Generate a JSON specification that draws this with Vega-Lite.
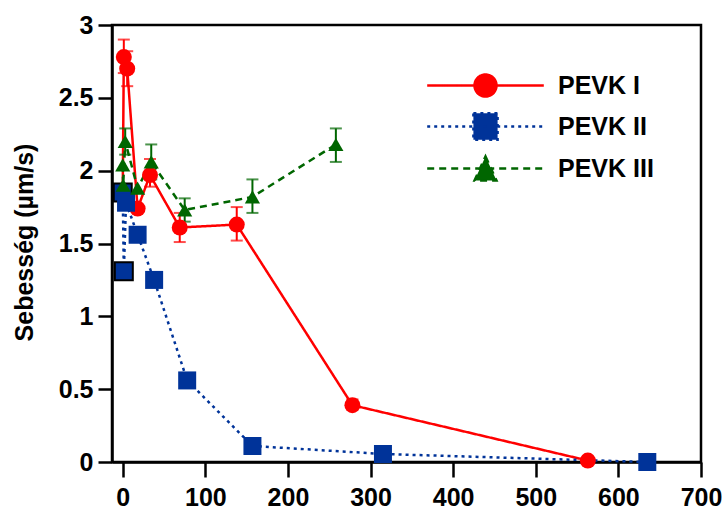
{
  "$schema": "https://vega.github.io/schema/vega-lite/v6.json",
  "width": 589,
  "height": 437,
  "autosize": {"type": "none"},
  "padding": {"left": 112, "top": 25, "right": 26, "bottom": 50},
  "background": "white",
  "config": {
    "view": {"stroke": "black", "strokeWidth": 2.5},
    "font": "Liberation Sans",
    "axis": {
      "grid": false,
      "domainColor": "black",
      "domainWidth": 2.5,
      "tickColor": "black",
      "tickWidth": 2.5,
      "labelFont": "Liberation Sans",
      "labelFontSize": 25,
      "labelFontWeight": "bold",
      "labelColor": "black",
      "labelFlush": false,
      "labelOverlap": false,
      "titleFont": "Liberation Sans",
      "titleFontSize": 25,
      "titleFontWeight": "bold",
      "titleColor": "black"
    }
  },
  "data": {
    "values": [
      {"series": "PEVK I", "x": 0, "y": 1.85},
      {"series": "PEVK I", "x": 1.3, "y": 2.78, "lo": 2.67, "hi": 2.9},
      {"series": "PEVK I", "x": 5.4, "y": 2.7, "lo": 2.58, "hi": 2.82},
      {"series": "PEVK I", "x": 18, "y": 1.74},
      {"series": "PEVK I", "x": 33, "y": 1.97, "lo": 1.89, "hi": 2.08},
      {"series": "PEVK I", "x": 69, "y": 1.61, "lo": 1.51, "hi": 1.71},
      {"series": "PEVK I", "x": 138, "y": 1.63, "lo": 1.52, "hi": 1.75},
      {"series": "PEVK I", "x": 278, "y": 0.39, "lo": 0.36, "hi": 0.43},
      {"series": "PEVK I", "x": 563, "y": 0.01},
      {"series": "PEVK II", "x": 0, "y": 1.85},
      {"series": "PEVK II", "x": 1.3, "y": 1.31},
      {"series": "PEVK II", "x": 4, "y": 1.78},
      {"series": "PEVK II", "x": 18, "y": 1.56},
      {"series": "PEVK II", "x": 38, "y": 1.25},
      {"series": "PEVK II", "x": 78, "y": 0.56},
      {"series": "PEVK II", "x": 157, "y": 0.11},
      {"series": "PEVK II", "x": 315, "y": 0.055},
      {"series": "PEVK II", "x": 635, "y": 0.0},
      {"series": "PEVK III", "x": 0, "y": 2.04},
      {"series": "PEVK III", "x": 0.5, "y": 1.9},
      {"series": "PEVK III", "x": 3, "y": 2.2, "lo": 2.11, "hi": 2.29},
      {"series": "PEVK III", "x": 18, "y": 1.88},
      {"series": "PEVK III", "x": 34.5, "y": 2.06, "lo": 1.94, "hi": 2.18},
      {"series": "PEVK III", "x": 75, "y": 1.73, "lo": 1.65, "hi": 1.81},
      {"series": "PEVK III", "x": 157, "y": 1.82, "lo": 1.71, "hi": 1.94},
      {"series": "PEVK III", "x": 258, "y": 2.18, "lo": 2.06, "hi": 2.29}
    ]
  },
  "encoding": {
    "x": {
      "field": "x",
      "type": "quantitative",
      "scale": {"domain": [-13, 700], "nice": false, "zero": false},
      "axis": {
        "title": null,
        "values": [0, 100, 200, 300, 400, 500, 600, 700],
        "tickSize": 15,
        "labelPadding": 8,
        "format": "d"
      }
    },
    "y": {
      "field": "y",
      "type": "quantitative",
      "scale": {"domain": [0, 3], "nice": false},
      "axis": {
        "title": "Sebesség (µm/s)",
        "values": [0, 0.5, 1, 1.5, 2, 2.5, 3],
        "format": "~g",
        "tickSize": 14,
        "labelPadding": 5,
        "titleX": -80,
        "titleY": 217,
        "titleAngle": -90,
        "titleAlign": "center",
        "titleBaseline": "alphabetic"
      }
    },
    "color": {
      "field": "series",
      "type": "nominal",
      "scale": {
        "domain": ["PEVK I", "PEVK II", "PEVK III"],
        "range": ["#ff0000", "#003399", "#006600"]
      },
      "legend": {
        "orient": "none",
        "legendX": 361,
        "legendY": 48,
        "title": null,
        "padding": 0,
        "labelFont": "Liberation Sans",
        "labelFontSize": 25,
        "labelFontWeight": "bold",
        "labelColor": "black",
        "labelOffset": 60,
        "rowPadding": 6,
        "symbolSize": 484,
        "symbolStrokeWidth": 2.5,
        "symbolOpacity": 1
      }
    }
  },
  "layer": [
    {
      "mark": {"type": "line", "strokeWidth": 2.5},
      "encoding": {
        "strokeDash": {
          "field": "series",
          "type": "nominal",
          "scale": {
            "domain": ["PEVK I", "PEVK II", "PEVK III"],
            "range": [[1, 0], [3, 4], [7, 5]]
          }
        }
      }
    },
    {
      "transform": [{"filter": "isValid(datum.lo)"}],
      "mark": {"type": "errorbar", "ticks": {"size": 12}, "thickness": 2},
      "encoding": {
        "y": {"field": "lo", "type": "quantitative", "title": "Sebesség (µm/s)"},
        "y2": {"field": "hi"}
      }
    },
    {
      "transform": [{"filter": "datum.series === 'PEVK I'"}],
      "mark": {"type": "point", "shape": "circle", "filled": true, "opacity": 1, "size": 256}
    },
    {
      "transform": [{"filter": "datum.series === 'PEVK II'"}],
      "mark": {"type": "point", "shape": "square", "filled": true, "opacity": 1, "size": 324, "strokeWidth": 2},
      "encoding": {
        "stroke": {"condition": {"test": "datum.x < 2", "value": "black"}, "value": null}
      }
    },
    {
      "transform": [{"filter": "datum.series === 'PEVK III'"}],
      "mark": {"type": "point", "shape": "triangle-up", "filled": true, "opacity": 1, "size": 230}
    },
    {
      "transform": [{"filter": "datum.x < -100"}],
      "mark": {"type": "point", "filled": true, "opacity": 1},
      "encoding": {
        "shape": {
          "field": "series",
          "type": "nominal",
          "scale": {
            "domain": ["PEVK I", "PEVK II", "PEVK III"],
            "range": [
              "M-5.3,0H5.3M-1,0A1,1,0,1,1,1,0A1,1,0,1,1,-1,0Z",
              "M-5.3,0H5.3M-1.1,-1.2H1.1V1.2H-1.1Z",
              "M-5.3,0H5.3M0,-1.1L1,1.1H-1Z"
            ]
          }
        },
        "strokeDash": {
          "field": "series",
          "type": "nominal"
        }
      }
    }
  ]
}
